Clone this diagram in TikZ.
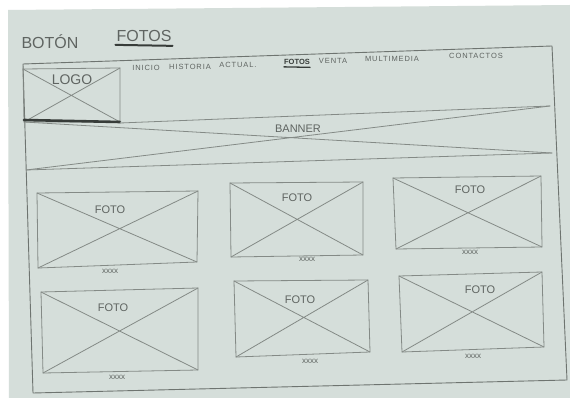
\documentclass[tikz,border=0pt]{standalone}
\usepackage{fontspec}
\setmainfont{Liberation Sans}
\definecolor{paper}{RGB}{213,222,218}
\definecolor{pencilc}{RGB}{132,138,134}
\definecolor{framec}{RGB}{110,116,112}
\definecolor{inkc}{RGB}{95,100,97}
\definecolor{darkc}{RGB}{55,60,57}
\newcommand{\xbox}[1]{%
  \draw[pencil] (#1-tl) -- (#1-tr) -- (#1-br) -- (#1-bl) -- cycle;
  \draw[pencil] (#1-tl) -- (#1-br) (#1-bl) -- (#1-tr);}
\begin{document}
\begin{tikzpicture}[x=1pt,y=-1pt,
  pencil/.style={draw=pencilc,line width=0.8pt,line join=round,line cap=round},
  framel/.style={draw=framec,line width=0.9pt,line join=round,line cap=round},
  heavy/.style={draw=darkc,line width=2.6pt,line cap=round},
  lbl/.style={inner sep=0pt,text=inkc,font=\fontsize{11}{11}\selectfont},
  navl/.style={inner sep=0pt,text=inkc,font=\fontsize{7.5}{7.5}\selectfont\addfontfeature{LetterSpace=12}},
  xl/.style={inner sep=0pt,text=inkc,font=\fontsize{8}{8}\selectfont}]
\useasboundingbox (0,0) rectangle (570,398);
\fill[white] (0,0) rectangle (570,398);
\fill[paper] (8,10) -- (570,5) -- (570,398) -- (9,398) -- cycle;
% title
\node[inner sep=0pt,text=inkc,font=\fontsize{16}{16}\selectfont] (tbot) at (50,42) {BOTÓN};
\node[inner sep=0pt,text=inkc,font=\fontsize{16}{16}\selectfont] (tfot) at (144,36) {FOTOS};
\draw[heavy,line width=2pt] ([xshift=-1pt,yshift=-3pt]tfot.south west) -- ([xshift=1pt,yshift=-4pt]tfot.south east);
% frame
\coordinate (f-tl) at (23,64);
\coordinate (f-tr) at (552,46);
\coordinate (f-br) at (567,380);
\coordinate (f-bl) at (33,393);
\draw[framel] (f-tl) -- (f-tr) -- (f-br) -- (f-bl) -- cycle;
% logo
\coordinate (lg-tl) at (23,69);
\coordinate (lg-tr) at (120,68);
\coordinate (lg-br) at (120,122);
\coordinate (lg-bl) at (24,122);
\xbox{lg}
\node[lbl,font=\fontsize{14}{14}\selectfont] (logo) at (72,80) {LOGO};
\draw[heavy] (24,120) -- (120,122);
% nav
\node[navl] (n1) at (146,68) {INICIO};
\node[navl] (n2) at (190,67) {HISTORIA};
\node[navl] (n3) at (238,65) {ACTUAL.};
\node[navl,text=darkc,font=\bfseries\fontsize{7.5}{7.5}\selectfont] (n4) at (297,62) {FOTOS};
\draw[heavy,line width=1.3pt] ([yshift=-2pt]n4.south west) -- ([yshift=-2.5pt]n4.south east);
\node[navl] (n5) at (333,61) {VENTA};
\node[navl] (n6) at (392,59) {MULTIMEDIA};
\node[navl] (n7) at (476,56) {CONTACTOS};
% banner
\coordinate (bn-tl) at (120,123);
\coordinate (bn-tr) at (550,106);
\coordinate (bn-br) at (552,153);
\coordinate (bn-bl) at (26,170);
\draw[pencil] (bn-tl) -- (bn-tr);
\draw[pencil] (lg-br) -- (bn-tl);
\draw[pencil] (bn-bl) -- (bn-br);
\draw[pencil] (lg-bl) -- (bn-br) (bn-bl) -- (bn-tr);
\node[lbl,font=\fontsize{11}{11}\selectfont] (banner) at (298,129) {BANNER};
% photos
\coordinate (p1-tl) at (37,193); \coordinate (p1-tr) at (198,191);
\coordinate (p1-br) at (197,262); \coordinate (p1-bl) at (38,268);
\coordinate (p2-tl) at (230,183); \coordinate (p2-tr) at (363,182);
\coordinate (p2-br) at (363,255); \coordinate (p2-bl) at (231,257);
\coordinate (p3-tl) at (393,178); \coordinate (p3-tr) at (541,176);
\coordinate (p3-br) at (542,247); \coordinate (p3-bl) at (396,249);
\coordinate (p4-tl) at (41,292); \coordinate (p4-tr) at (198,288);
\coordinate (p4-br) at (198,370); \coordinate (p4-bl) at (43,373);
\coordinate (p5-tl) at (234,281); \coordinate (p5-tr) at (368,280);
\coordinate (p5-br) at (370,352); \coordinate (p5-bl) at (236,357);
\coordinate (p6-tl) at (399,276); \coordinate (p6-tr) at (542,272);
\coordinate (p6-br) at (544,347); \coordinate (p6-bl) at (402,352);
\xbox{p1}\xbox{p2}\xbox{p3}\xbox{p4}\xbox{p5}\xbox{p6}
\node[lbl] (f1) at (110,210) {FOTO};
\node[lbl] (f2) at (297,198) {FOTO};
\node[lbl] (f3) at (470,190) {FOTO};
\node[lbl] (f4) at (113,308) {FOTO};
\node[lbl] (f5) at (300,300) {FOTO};
\node[lbl] (f6) at (480,290) {FOTO};
\node[xl] (x1) at (110,271) {xxxx};
\node[xl] (x2) at (307,259) {xxxx};
\node[xl] (x3) at (470,252) {xxxx};
\node[xl] (x4) at (117,377) {xxxx};
\node[xl] (x5) at (310,361) {xxxx};
\node[xl] (x6) at (473,356) {xxxx};
\end{tikzpicture}
\end{document}
